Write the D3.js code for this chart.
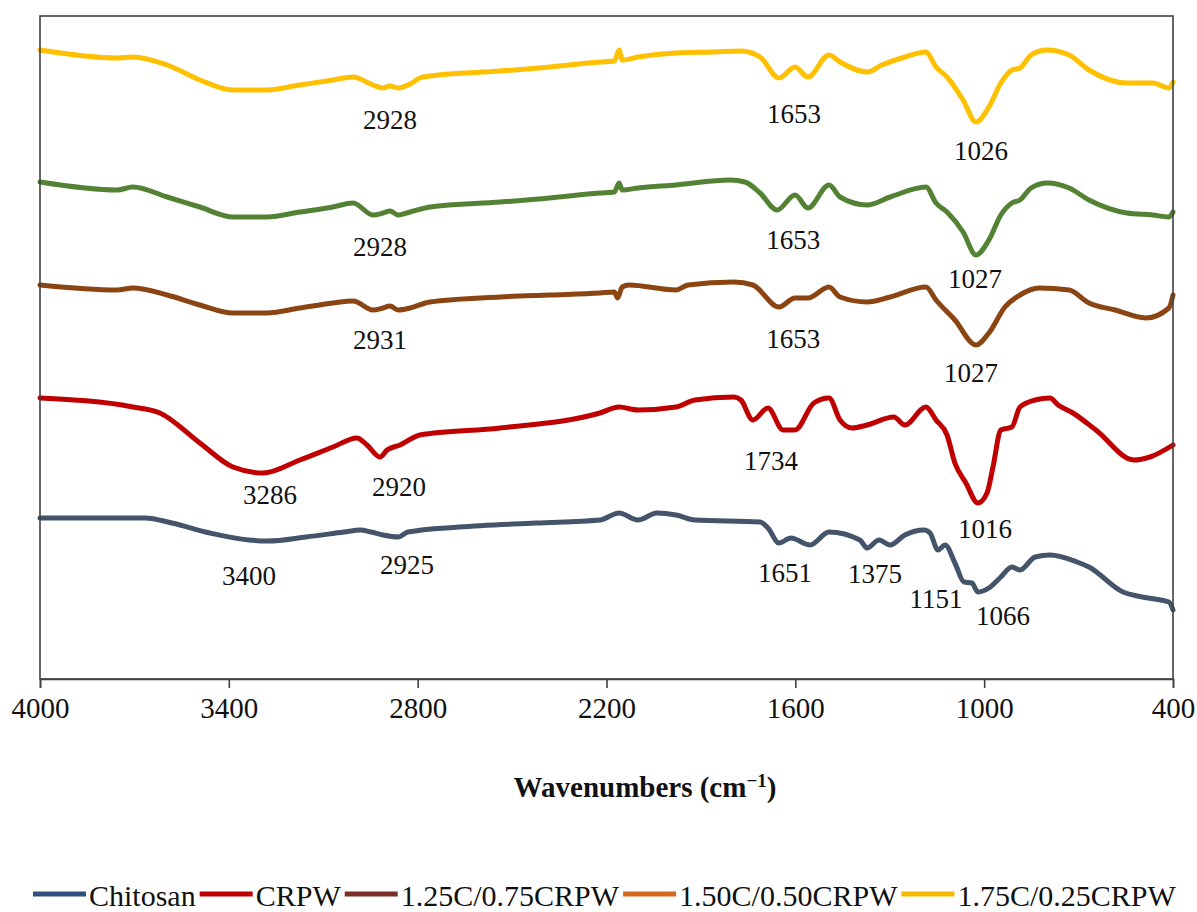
<!DOCTYPE html>
<html><head><meta charset="utf-8">
<script src="https://cdn.jsdelivr.net/npm/d3@7"></script>
<style>
html,body{margin:0;padding:0;background:#fff;}
svg{display:block;}
text{font-family:"Liberation Serif","Times New Roman",serif;fill:#111;}
</style></head>
<body>
<svg id="chart" width="1197" height="912"></svg>
<script>
// ---- Data (wavenumber cm^-1, transmittance a.u. with vertical offsets) ----
const xTicks = [4000, 3400, 2800, 2200, 1600, 1000, 400];

const chitosan = [[4000,161],[3666,161],[3581,156],[3460,146],[3336,139],[3276,138],[3155,142],[3034,147],[2983,149],[2948,147],[2910,144],[2862,142],[2831,147],[2669,152],[2424,156],[2221,159],[2160,166],[2100,159],[2040,166],[1979,164],[1919,159],[1712,157],[1687,151],[1652,136],[1614,141],[1553,134],[1493,147],[1395,139],[1372,131],[1334,139],[1299,134],[1252,144],[1191,149],[1172,146],[1147,129],[1124,134],[1093,116],[1064,97],[1039,96],[1020,87],[985,91],[947,102],[912,112],[886,109],[838,122],[791,124],[705,117],[667,112],[559,87],[498,82],[413,77],[400,69]];

const crpw = [[4000,281],[3705,272],[3619,266],[3492,236],[3387,212],[3291,206],[3174,219],[3069,232],[2993,241],[2961,234],[2920,222],[2897,229],[2856,234],[2793,244],[2538,251],[2221,266],[2160,272],[2100,269],[1979,272],[1919,279],[1795,282],[1773,279],[1735,259],[1687,271],[1639,249],[1601,249],[1541,276],[1493,281],[1458,259],[1420,251],[1372,254],[1287,262],[1252,254],[1185,272],[1153,259],[1118,244],[1093,216],[1058,196],[1020,176],[991,186],[972,212],[947,249],[912,252],[886,272],[838,279],[791,281],[765,274],[718,266],[645,249],[524,219],[473,222],[400,234]];

const c125 = [[4000,394],[3755,389],[3705,391],[3596,384],[3492,374],[3387,366],[3279,366],[3174,371],[3069,376],[3005,378],[2942,369],[2910,371],[2888,373],[2862,369],[2824,371],[2761,377],[2538,382],[2380,384],[2221,386],[2175,387],[2165,381],[2150,392],[2129,394],[1979,389],[1941,394],[1795,397],[1735,394],[1652,372],[1601,381],[1560,381],[1493,392],[1458,382],[1372,377],[1299,382],[1185,392],[1153,379],[1093,359],[1026,334],[985,346],[934,372],[886,384],[826,391],[730,389],[667,376],[584,369],[486,361],[413,371],[400,384]];

const c150 = [[4000,497],[3755,489],[3705,492],[3596,482],[3492,472],[3387,462],[3279,462],[3174,467],[3069,472],[3005,476],[2942,464],[2910,466],[2888,468],[2862,464],[2824,467],[2761,472],[2538,477],[2380,481],[2221,486],[2175,487],[2160,496],[2150,489],[2100,491],[1979,494],[1808,499],[1760,497],[1712,486],[1658,469],[1601,484],[1560,471],[1493,494],[1458,482],[1372,474],[1299,482],[1185,492],[1153,476],[1118,467],[1067,447],[1026,424],[985,439],[947,464],[912,476],[886,479],[851,491],[800,496],[730,491],[667,479],[546,466],[464,464],[413,462],[400,467]];

const c175 = [[4000,629],[3755,621],[3705,622],[3596,614],[3492,599],[3387,589],[3279,589],[3174,594],[3069,599],[3005,602],[2942,594],[2910,591],[2888,593],[2862,591],[2824,595],[2793,601],[2761,603],[2538,608],[2380,612],[2221,617],[2175,618],[2160,629],[2150,619],[2100,622],[1979,626],[1858,627],[1773,628],[1712,622],[1652,601],[1601,612],[1560,602],[1493,624],[1458,617],[1372,607],[1325,614],[1252,622],[1185,627],[1153,612],[1118,602],[1067,579],[1026,557],[985,572],[947,596],[912,609],[886,611],[851,624],[800,629],[730,624],[667,609],[546,596],[464,596],[413,591],[400,597]];

const seriesNames = ["Chitosan","CRPW","1.25C/0.75CRPW","1.50C/0.50CRPW","1.75C/0.25CRPW"];
const seriesData = [chitosan, crpw, c125, c150, c175];
const lineColors = ["#44546A","#C00000","#8A4513","#548235","#FFC000"];
const legendColors = ["#2F4F7F","#C00000","#7A2E26","#D2691E","#F5BA00"];

// peak annotations: [wavenumber, a.u., text]
const peakLabels = [
  [2888,550,"2928"],[1604,556,"1653"],[1010,519,"1026"],
  [2920,423,"2928"],[1607,430,"1653"],[1029,391,"1027"],
  [2920,330,"2931"],[1607,331,"1653"],[1042,297,"1027"],
  [3269,175,"3286"],[2859,183,"2920"],[1677,209,"1734"],[997,141,"1016"],
  [3336,94,"3400"],[2834,105,"2925"],[1633,97,"1651"],[1347,96,"1375"],[1153,71,"1151"],[940,54,"1066"]
];

const xTitle = "Wavenumbers (cm";
const xTitleSup = "\u22121";

// ---- Drawing ----
const svg = d3.select("#chart");
const x = d3.scaleLinear().domain([4000,400]).range([40,1173]);
const y = d3.scaleLinear().domain([0,663]).range([679,16]);

const line = d3.line().x(d=>x(d[0])).y(d=>y(d[1])).curve(d3.curveMonotoneX);

seriesData.forEach((s,i)=>{
  svg.append("path").datum(s)
    .attr("d", line)
    .attr("fill","none")
    .attr("stroke", lineColors[i])
    .attr("stroke-width", 5)
    .attr("stroke-linejoin","round")
    .attr("stroke-linecap","round");
});

// frame
svg.append("rect").attr("x",x(4000)).attr("y",y(663))
  .attr("width",x(400)-x(4000)).attr("height",y(0)-y(663))
  .attr("fill","none").attr("stroke","#404040").attr("stroke-width",1.6);

// x axis
const xAxis = d3.axisBottom(x).tickValues(xTicks).tickSize(9).tickPadding(9).tickFormat(d3.format("d"));
const gx = svg.append("g").attr("transform",`translate(0,${y(0)})`).call(xAxis);
gx.select(".domain").attr("stroke","#404040").attr("stroke-width",1.6);
gx.selectAll(".tick line").attr("stroke","#404040").attr("stroke-width",1.6);
gx.selectAll(".tick text").attr("font-family","Liberation Serif").attr("font-size",29).attr("fill","#111");

// axis title
const t = svg.append("text").attr("x",645).attr("y",797).attr("text-anchor","middle")
  .attr("font-size",29).attr("font-weight","bold");
t.append("tspan").text(xTitle);
t.append("tspan").attr("dy",-10).attr("font-size",19).text(xTitleSup);
t.append("tspan").attr("dy",10).text(")");

// peak labels
svg.selectAll("text.peak").data(peakLabels).join("text")
  .attr("class","peak")
  .attr("x",d=>x(d[0])).attr("y",d=>y(d[1]))
  .attr("text-anchor","middle").attr("font-size",27)
  .text(d=>d[2]);

// legend
const legend = svg.append("g").attr("transform","translate(33,0)");
let cx = 0;
seriesNames.forEach((name,i)=>{
  legend.append("line").attr("x1",cx).attr("x2",cx+53).attr("y1",894).attr("y2",894)
    .attr("stroke",legendColors[i]).attr("stroke-width",5);
  const tx = legend.append("text").attr("x",cx+56).attr("y",906).attr("font-size",30).text(name);
  const w = tx.node().getComputedTextLength();
  cx += 56 + w + 4;
});
</script>
</body></html>
